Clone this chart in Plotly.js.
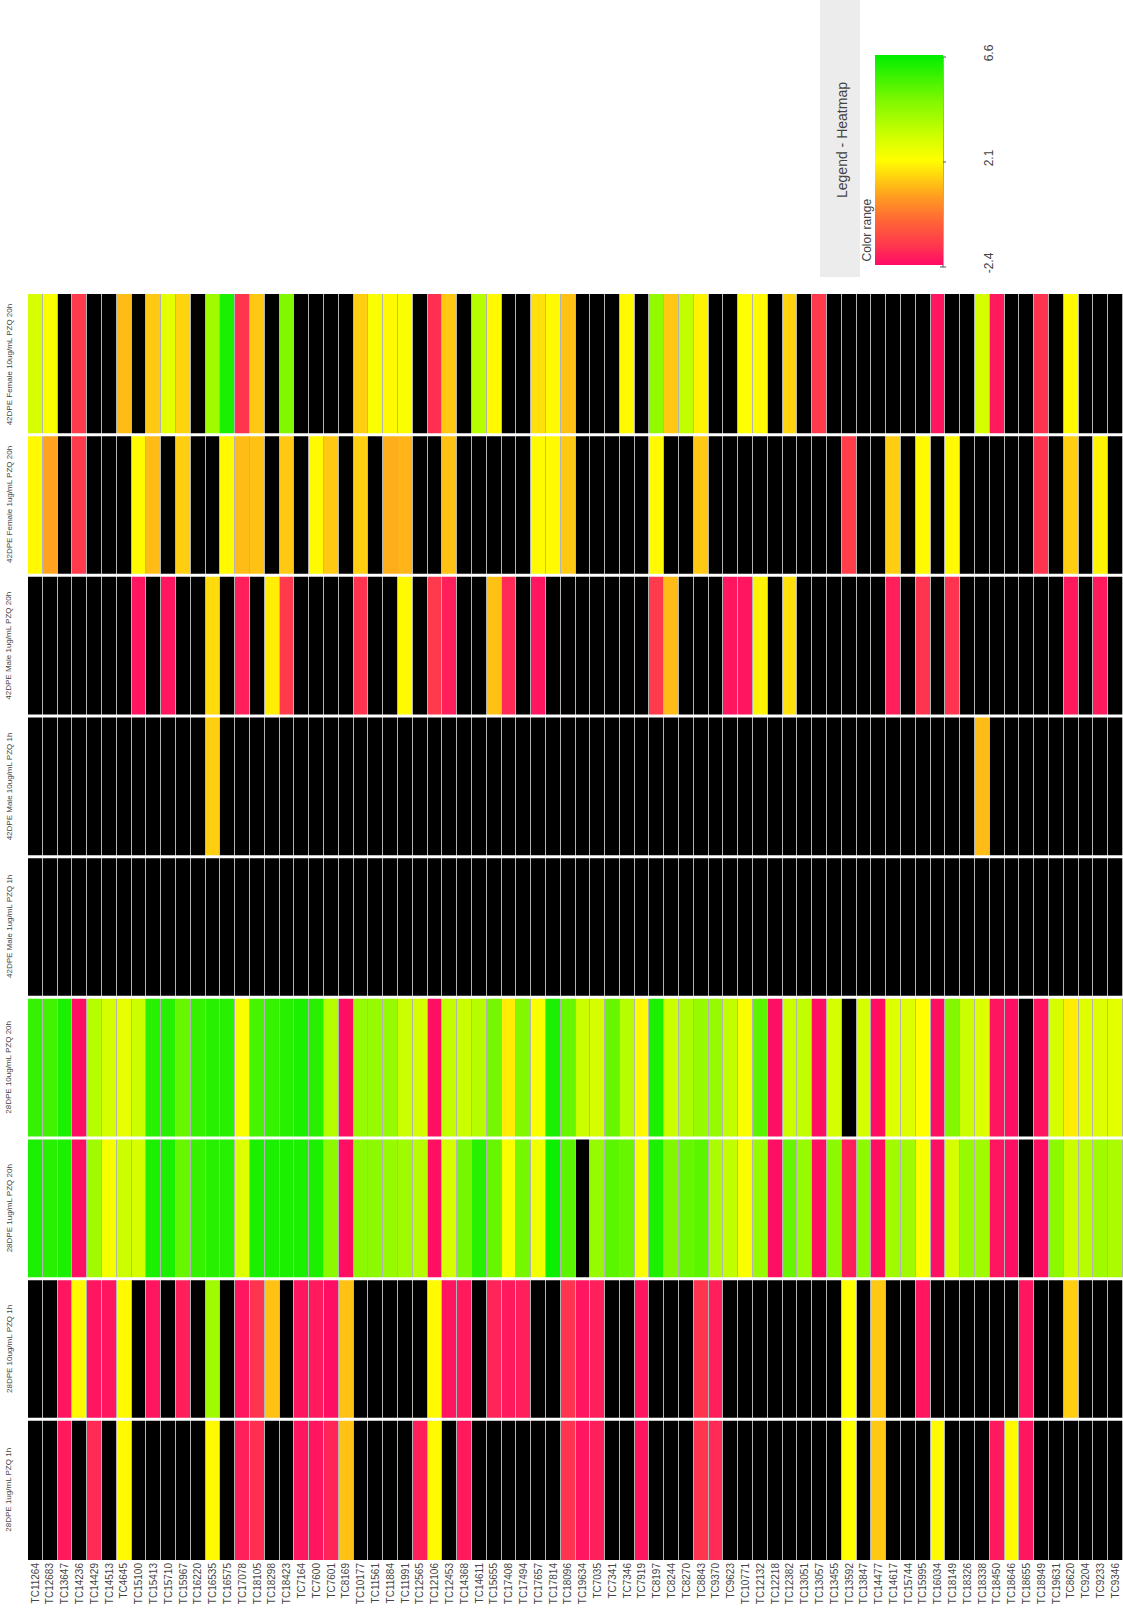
<!DOCTYPE html>
<html>
<head>
<meta charset="utf-8">
<script src="https://cdn.plot.ly/plotly-3.0.1.min.js"></script>
<style>
  html, body { margin: 0; padding: 0; background: #ffffff; }
  #chart { width: 1123px; height: 1616px; }
</style>
</head>
<body>
<div id="chart"></div>
<script>
// Transcript IDs (columns of the heatmap)
const genes = [
  'TC11264','TC12683','TC13647','TC14236','TC14429','TC14513','TC4645','TC15100','TC15413','TC15710',
  'TC15967','TC16220','TC16535','TC16575','TC17078','TC18105','TC18298','TC18423','TC7164','TC7600',
  'TC7601','TC8169','TC10177','TC11561','TC11884','TC11991','TC12565','TC12106','TC12453','TC14368',
  'TC14611','TC15655','TC17408','TC17494','TC17657','TC17814','TC18096','TC19634','TC7035','TC7341',
  'TC7346','TC7919','TC8197','TC8244','TC8270','TC8843','TC9370','TC9623','TC10771','TC12132',
  'TC12218','TC12382','TC13051','TC13057','TC13455','TC13592','TC13847','TC14477','TC14617','TC15744',
  'TC15995','TC16034','TC18149','TC18326','TC18338','TC18450','TC18646','TC18655','TC18949','TC19631',
  'TC8620','TC9204','TC9233','TC9346'
];

// Experimental conditions (rows of the heatmap, top to bottom)
const conditions = [
  '42DPE Female 10ug/mL PZQ 20h',
  '42DPE Female 1ug/mL PZQ 20h',
  '42DPE Male 1ug/mL PZQ 20h',
  '42DPE Male 10ug/mL PZQ 1h',
  '42DPE Male 1ug/mL PZQ 1h',
  '28DPE 10ug/mL PZQ 20h',
  '28DPE 1ug/mL PZQ 20h',
  '28DPE 10ug/mL PZQ 1h',
  '28DPE 1ug/mL PZQ 1h'
];

const N = null; // no value measured (drawn black)

// Expression values per condition, one entry per transcript
const femaleHigh20h = [
  3.0, 2.2, N, -1.5, N, N, 1.0, N, 1.2, 2.7,
  1.4, N, 4.0, 6.2, -1.6, 1.2, N, 4.6, N, N,
  N, N, 1.3, 2.2, 2.0, 2.2, N, -1.7, 1.2, N,
  3.6, 2.0, N, N, 1.6, 2.0, 1.1, N, N, N,
  2.0, N, 4.3, 1.2, 3.4, 1.9, N, N, 2.1, 2.0,
  N, 1.4, N, -1.5, N, N, N, N, N, N,
  N, -2.2, N, N, 3.0, -2.1, N, N, -1.6, N,
  2.0, N, N, N
];
const femaleLow20h = [
  2.0, 0.6, N, -1.5, N, N, N, 2.0, 1.0, N,
  1.3, N, N, 2.0, 1.0, 1.1, N, 1.2, N, 2.0,
  1.2, N, 1.3, N, 0.8, 0.9, N, N, 1.1, N,
  N, N, N, N, 2.0, 2.0, 1.2, N, N, N,
  N, N, 2.0, N, N, 1.2, N, N, N, N,
  N, N, N, N, N, -1.4, N, N, 1.3, N,
  2.0, N, 2.0, N, N, N, N, N, -1.6, N,
  1.3, N, 1.9, N
];
const maleLow20h = [
  N, N, N, N, N, N, N, -2.2, N, -2.2,
  N, N, 1.5, N, -2.0, N, 1.8, -1.5, N, N,
  N, N, -1.6, N, N, 2.0, N, -1.5, -2.0, N,
  N, 1.1, -1.8, N, -2.2, N, N, N, N, N,
  N, N, -1.5, 1.0, N, N, N, -2.2, -2.2, 1.9,
  N, 1.6, N, N, N, N, N, N, -2.0, N,
  -1.6, N, -1.6, N, N, N, N, N, N, N,
  -2.1, N, -2.1, N
];
const maleHigh1h = [
  N, N, N, N, N, N, N, N, N, N,
  N, N, 1.3, N, N, N, N, N, N, N,
  N, N, N, N, N, N, N, N, N, N,
  N, N, N, N, N, N, N, N, N, N,
  N, N, N, N, N, N, N, N, N, N,
  N, N, N, N, N, N, N, N, N, N,
  N, N, N, N, 1.0, N, N, N, N, N,
  N, N, N, N
];
const maleLow1h = [
  N, N, N, N, N, N, N, N, N, N,
  N, N, N, N, N, N, N, N, N, N,
  N, N, N, N, N, N, N, N, N, N,
  N, N, N, N, N, N, N, N, N, N,
  N, N, N, N, N, N, N, N, N, N,
  N, N, N, N, N, N, N, N, N, N,
  N, N, N, N, N, N, N, N, N, N,
  N, N, N, N
];
const juvHigh20h = [
  5.8, 5.6, 6.2, -2.3, 3.6, 3.0, 2.6, 3.2, 6.0, 6.0,
  5.0, 5.8, 6.0, 6.0, 2.2, 5.5, 5.8, 6.0, 6.2, 6.0,
  3.6, -2.3, 4.2, 4.2, 4.2, 3.2, 3.0, -2.3, 3.4, 3.2,
  3.6, 4.8, 1.8, 4.6, 2.2, 6.2, 5.0, 3.2, 3.0, 5.0,
  3.6, 2.0, 6.2, 3.2, 3.8, 4.2, 4.2, 3.4, 2.2, 5.2,
  -2.3, 3.2, 3.4, -2.3, 3.0, N, 3.0, -2.3, 2.8, 2.8,
  2.1, -2.3, 4.6, 3.2, 2.8, -2.2, -2.3, N, -2.2, 3.0,
  1.8, 2.8, 2.8, 2.7
];
const juvLow20h = [
  6.2, 6.0, 6.2, -2.3, 4.0, 2.3, 3.2, 3.0, 6.2, 6.2,
  5.0, 5.8, 6.0, 6.0, 2.8, 6.2, 6.2, 6.2, 6.2, 6.2,
  4.4, -2.3, 4.4, 4.4, 4.2, 4.0, 3.6, -2.3, 3.0, 4.8,
  6.0, 5.0, 2.2, 4.8, 2.4, 6.4, 5.2, N, 4.2, 5.2,
  5.0, 2.2, 6.2, 4.6, 5.0, 5.2, 3.8, 3.4, 2.2, 4.2,
  -2.3, 5.0, 4.2, -2.3, 4.4, -2.0, 4.4, -2.3, 4.0, 4.0,
  2.2, -2.3, 3.0, 4.2, 4.0, -2.2, -2.3, N, -2.3, 4.4,
  3.2, 3.6, 4.0, 3.8
];
const juvHigh1h = [
  N, N, -2.2, 2.0, -2.2, -2.2, 2.0, N, -2.2, N,
  -2.0, N, 4.0, N, -2.2, -1.6, 1.1, N, -2.2, -2.1,
  -2.3, 1.1, N, N, N, N, N, 2.0, -2.2, -2.1,
  N, -1.9, -2.1, -2.0, N, N, -1.6, -2.2, -2.0, N,
  N, -2.2, N, N, N, -1.6, -2.0, N, N, N,
  N, N, N, N, N, 2.1, N, 1.2, N, N,
  -2.2, N, N, N, N, N, N, -2.2, N, N,
  1.3, N, N, N
];
const juvLow1h = [
  N, N, -2.1, N, -1.8, N, 2.0, N, N, N,
  N, N, 2.0, N, -2.0, -1.7, N, N, -2.2, -2.2,
  -1.9, 1.1, N, N, N, N, -2.0, 2.0, N, -2.1,
  N, N, N, N, N, N, -1.6, -2.2, -2.0, N,
  N, -2.2, N, N, N, -1.6, -1.8, N, N, N,
  N, N, N, N, N, 2.1, N, 1.2, N, N,
  N, 2.0, N, N, N, -2.1, 2.0, -2.2, N, N,
  N, N, N, N
];

// Colour legend range and its labelled stops
const legendTicks = [-2.4, 2.1, 6.6];
const legendTickText = ['-2.4', '2.1', '6.6'];

const values = [
  femaleHigh20h, femaleLow20h, maleLow20h, maleHigh1h, maleLow1h,
  juvHigh20h, juvLow20h, juvHigh1h, juvLow1h
];

// Cells without a value form a black underlay
const missing = values.map(row => row.map(v => (v === null ? 1 : null)));

const W = 1123, H = 1616;
const M = { l: 28, r: 0, t: 294, b: 56, autoexpand: false };
const plotW = W - M.l - M.r;
const plotH = H - M.t - M.b;
const px2x = px => (px - M.l) / plotW;
const px2y = py => (H - M.b - py) / plotH;

const FONT = 'Liberation Sans, Arial, sans-serif';

const scale = [
  [0.00, '#ff0a66'],
  [0.10, '#ff3a4c'],
  [0.22, '#ff6a34'],
  [0.32, '#ff9a22'],
  [0.40, '#ffc812'],
  [0.50, '#ffff00'],
  [0.62, '#ccff00'],
  [0.78, '#80f800'],
  [1.00, '#00ee00']
];

const traces = [
  {
    type: 'heatmap',
    x: genes, y: conditions, z: missing,
    colorscale: [[0, '#000000'], [1, '#000000']],
    showscale: false, xgap: 1, ygap: 0, hoverinfo: 'skip'
  },
  {
    type: 'heatmap',
    x: genes, y: conditions, z: values,
    zmin: legendTicks[0], zmax: legendTicks[legendTicks.length - 1],
    colorscale: scale,
    xgap: 1, ygap: 0,
    colorbar: {
      xref: 'container', yref: 'container',
      x: 875 / W, xanchor: 'left',
      y: 1 - 204 / H, yanchor: 'middle',
      len: 210, lenmode: 'pixels',
      thickness: 68, thicknessmode: 'pixels',
      xpad: 0, ypad: 0, outlinewidth: 0,
      tickvals: legendTicks, ticktext: legendTickText,
      tickangle: -90, ticks: 'outside', ticklen: 36,
      tickcolor: 'rgba(0,0,0,0)',
      tickfont: { family: FONT, size: 12, color: '#444444' }
    }
  }
];

// White separators between condition rows
const shapes = conditions.slice(1).map((_, i) => ({
  type: 'line', xref: 'paper', yref: 'y',
  x0: 0, x1: 1, y0: i + 0.5, y1: i + 0.5,
  line: { color: '#ffffff', width: 3 }, layer: 'above'
}));

// Legend panel decorations
const barTop = 57, barBottom = 267, barRight = 943;
shapes.push({
  type: 'rect', xref: 'paper', yref: 'paper',
  x0: px2x(820), x1: px2x(860), y0: px2y(277), y1: px2y(0),
  fillcolor: '#ececec', line: { width: 0 }, layer: 'below'
});
shapes.push({
  type: 'line', xref: 'paper', yref: 'paper',
  x0: px2x(barRight), x1: px2x(barRight), y0: px2y(barBottom), y1: px2y(barTop),
  line: { color: '#555555', width: 1 }
});
legendTicks.forEach(v => {
  const frac = (v - legendTicks[0]) / (legendTicks[legendTicks.length - 1] - legendTicks[0]);
  const py = barBottom - frac * (barBottom - barTop);
  shapes.push({
    type: 'line', xref: 'paper', yref: 'paper',
    x0: px2x(barRight - 3), x1: px2x(barRight + 3), y0: px2y(py), y1: px2y(py),
    line: { color: '#555555', width: 1 }
  });
});

// Condition labels, rotated, left of each row
const annotations = conditions.map(c => ({
  xref: 'paper', yref: 'y', x: px2x(9), y: c,
  text: c, textangle: -90, showarrow: false,
  xanchor: 'center', yanchor: 'middle',
  font: { family: FONT, size: 8, color: '#444444' }
}));

annotations.push({
  xref: 'paper', yref: 'paper', x: px2x(842), y: px2y(140),
  text: 'Legend - Heatmap', textangle: -90, showarrow: false,
  xanchor: 'center', yanchor: 'middle',
  font: { family: FONT, size: 14, color: '#444444' }
});
annotations.push({
  xref: 'paper', yref: 'paper', x: px2x(866), y: px2y(264),
  text: 'Color range', textangle: -90, showarrow: false,
  xanchor: 'center', yanchor: 'bottom',
  font: { family: FONT, size: 12, color: '#444444' }
});

const layout = {
  width: W, height: H,
  margin: M,
  paper_bgcolor: '#ffffff',
  plot_bgcolor: '#b4b4b4',
  font: { family: FONT },
  showlegend: false,
  xaxis: {
    type: 'category', tickangle: -90, ticks: '',
    tickmode: 'array', tickvals: genes, ticktext: genes,
    tickfont: { family: FONT, size: 10, color: '#444444' },
    showgrid: false, zeroline: false, showline: false, automargin: false,
    fixedrange: true
  },
  yaxis: {
    type: 'category', autorange: 'reversed',
    showticklabels: false, ticks: '',
    showgrid: false, zeroline: false, showline: false, automargin: false,
    fixedrange: true
  },
  shapes: shapes,
  annotations: annotations
};

Plotly.newPlot('chart', traces, layout, { displayModeBar: false, staticPlot: true });
</script>
</body>
</html>
